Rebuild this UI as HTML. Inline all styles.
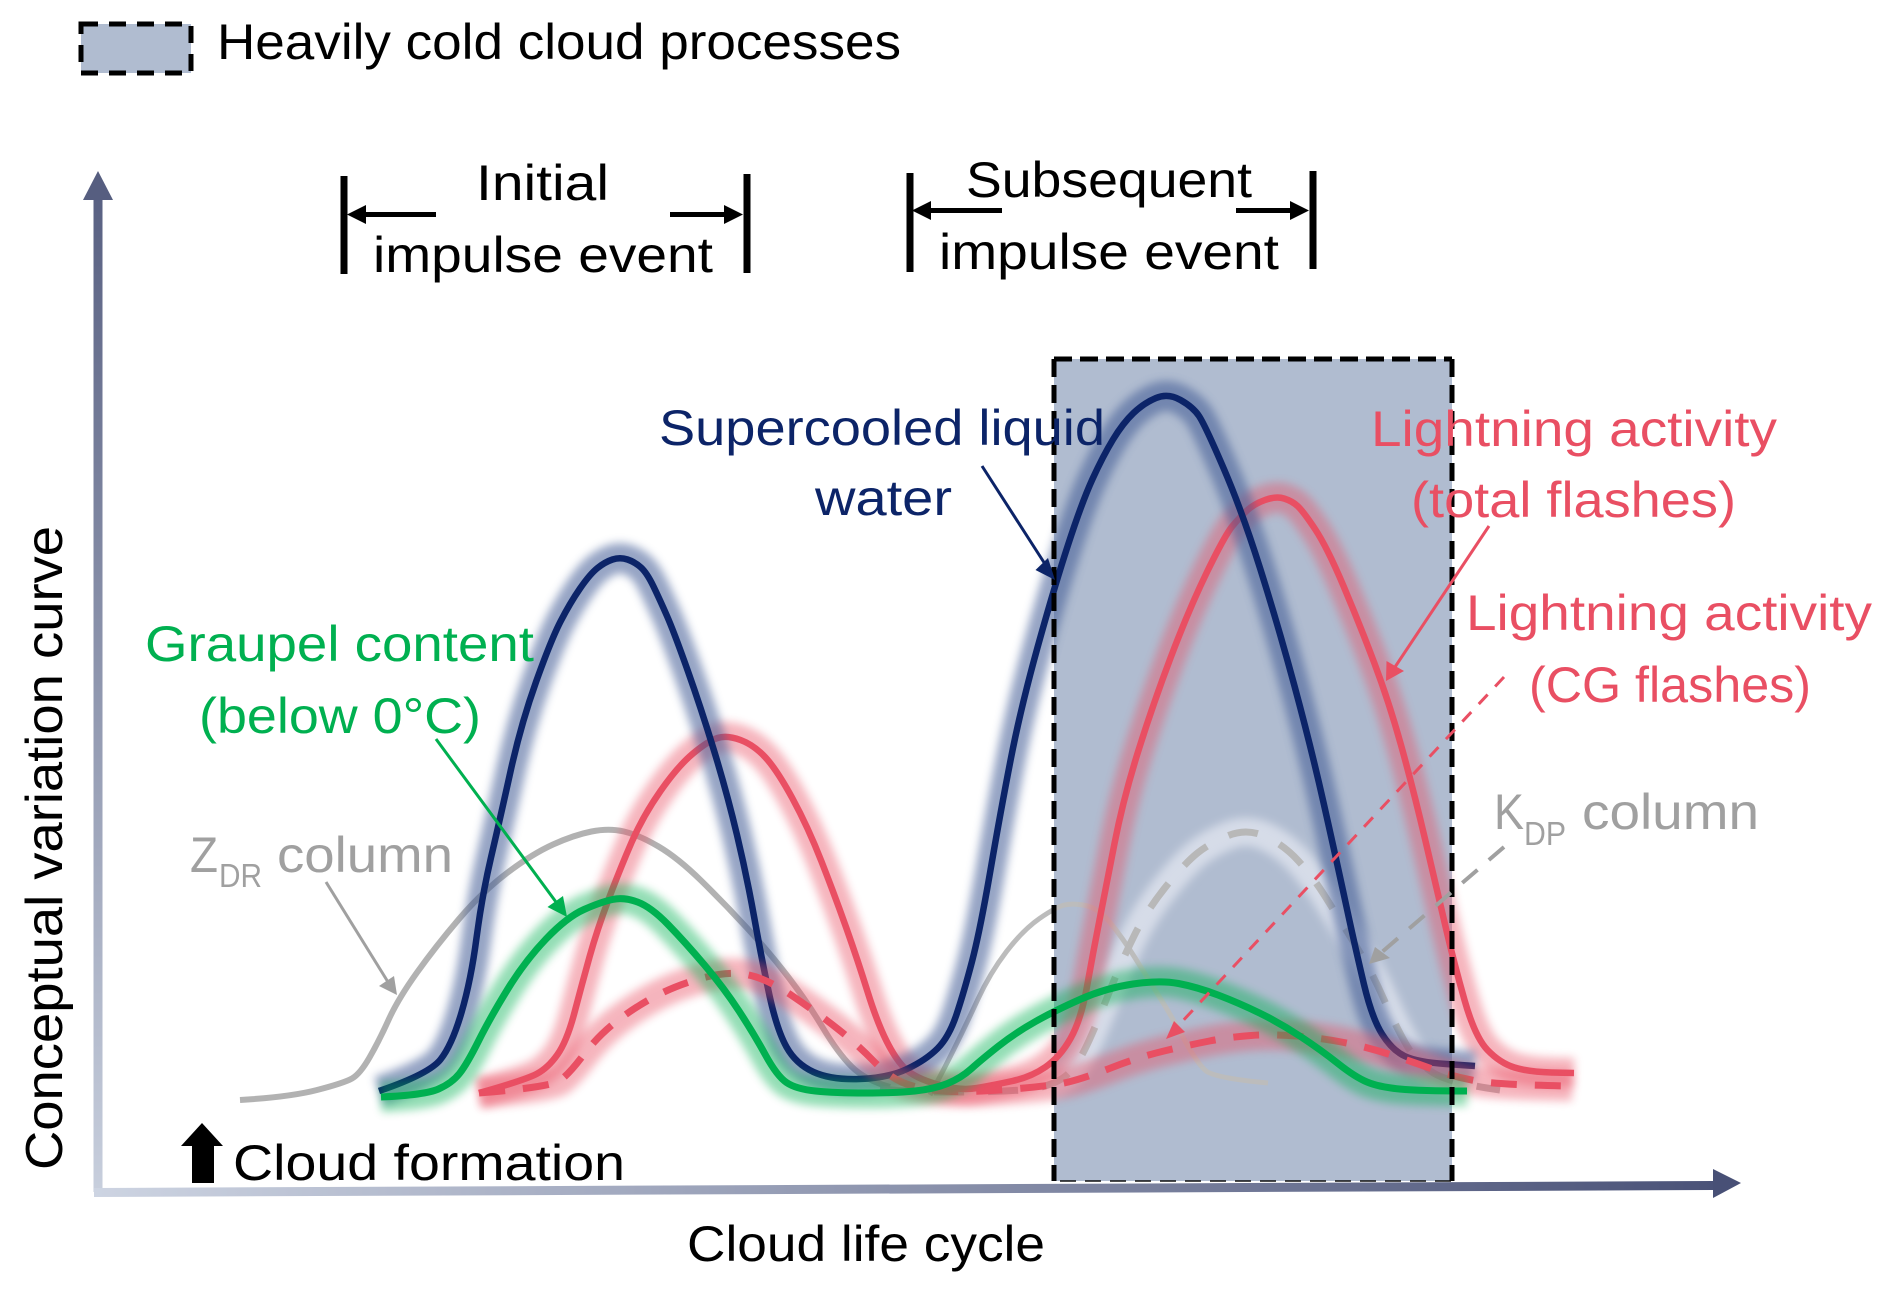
<!DOCTYPE html>
<html><head><meta charset="utf-8"><style>
html,body{margin:0;padding:0;background:#fff}
svg{display:block}
text{font-family:"Liberation Sans",sans-serif;font-size:50px}
</style></head><body>
<svg width="1892" height="1293" viewBox="0 0 1892 1293" xmlns="http://www.w3.org/2000/svg">
<defs>
<linearGradient id="gy" gradientUnits="userSpaceOnUse" x1="0" y1="171" x2="0" y2="1196"><stop offset="0" stop-color="#565e80"/><stop offset="1" stop-color="#c8cfdd"/></linearGradient>
<linearGradient id="gx" gradientUnits="userSpaceOnUse" x1="94" y1="0" x2="1741" y2="0"><stop offset="0" stop-color="#cdd4e2"/><stop offset="1" stop-color="#485076"/></linearGradient>
<filter id="b" filterUnits="userSpaceOnUse" x="0" y="300" width="1892" height="900"><feGaussianBlur stdDeviation="4.500"/></filter>
<clipPath id="rc"><rect x="1054" y="359" width="398" height="822"/></clipPath>
<path id="navy" d="M379 1091 Q429 1074 440.500 1059.500 Q452 1045 461.500 1012.500 Q471 980 476.500 938 Q482 896 491 857.500 Q500 819 510.500 771.500 Q521 724 536 682 Q551 640 560.500 621.500 Q570 603 580 588.500 Q590 574 597.500 568 Q605 562 612.500 559.500 Q620 557 627.500 559.500 Q635 562 641 567.500 Q647 573 653.500 586.500 Q660 600 667 616 Q674 632 687.500 670 Q701 708 714 750.500 Q727 793 737 835 Q747 877 754.500 919 Q762 961 769.500 995.500 Q777 1030 786.500 1047 Q796 1064 813.500 1072 Q831 1080 859.500 1079 Q888 1078 907 1069 Q926 1060 937.500 1048.500 Q949 1037 956.500 1014.500 Q964 992 972 961.500 Q980 931 990.500 870 Q1001 809 1011 758 Q1021 707 1037.500 647.500 Q1054 588 1068 545 Q1082 502 1092.500 479 Q1103 456 1113 439.500 Q1123 423 1133.500 413 Q1144 403 1156 398 Q1168 393 1180.500 400 Q1193 407 1199 416 Q1205 425 1223.500 468 Q1242 511 1260 568 Q1278 625 1294.500 686 Q1311 747 1323.500 802.500 Q1336 858 1346 904.500 Q1356 951 1364 984.500 Q1372 1018 1382 1034 Q1392 1050 1404.500 1056 Q1417 1062 1446 1064 L1475 1066"/>
<path id="red" d="M479 1093 Q525 1080 536.500 1074 Q548 1068 557.500 1054.500 Q567 1041 574.500 1012.500 Q582 984 589.500 957 Q597 930 608.500 899.500 Q620 869 631.500 842.500 Q643 816 660.500 791 Q678 766 693 753.500 Q708 741 717.500 738 Q727 735 740.500 740 Q754 745 765.500 757.500 Q777 770 792.500 798.500 Q808 827 821.500 861.500 Q835 896 846.500 928.500 Q858 961 867.500 991.500 Q877 1022 886.500 1041 Q896 1060 905.500 1069 Q915 1078 937.500 1084.500 Q960 1091 977 1088 Q994 1085 1012.500 1081 Q1031 1077 1045.500 1067 Q1060 1057 1070.500 1038.500 Q1081 1020 1087 986.500 Q1093 953 1099.500 920 Q1106 887 1114.500 843.500 Q1123 800 1137.500 753.500 Q1152 707 1170.500 658 Q1189 609 1207 572 Q1225 535 1232.500 526 Q1240 517 1247 510.500 Q1254 504 1265 500 Q1276 496 1284 498.500 Q1292 501 1297.500 506 Q1303 511 1315 529 Q1327 547 1343.500 586 Q1360 625 1374.500 663.500 Q1389 702 1401 745 Q1413 788 1425.500 841 Q1438 894 1446 928.500 Q1454 963 1464.500 1000 Q1475 1037 1487.500 1050 Q1500 1063 1514.500 1067.500 Q1529 1072 1551.500 1072.500 L1574 1073"/>
<path id="reddash" d="M479 1093 Q551 1087 560 1080.500 Q569 1074 583 1055.500 Q597 1037 614.500 1023 Q632 1009 653 997.500 Q674 986 700.500 978.500 Q727 971 746.500 974.500 Q766 978 792.500 996 Q819 1014 838.500 1029.500 Q858 1045 873 1060.500 Q888 1076 901.500 1082 Q915 1088 937.500 1090.500 Q960 1093 1006 1089.500 Q1052 1086 1068.500 1082 Q1085 1078 1112 1067.500 Q1139 1057 1164 1051 Q1189 1045 1209.500 1041 Q1230 1037 1251 1035.500 Q1272 1034 1296.500 1036 Q1321 1038 1344 1042.500 Q1367 1047 1390 1054.500 Q1413 1062 1433.500 1069.500 Q1454 1077 1477 1081 Q1500 1085 1572 1086"/>
<path id="green" d="M381 1097 Q425 1095 438.500 1089 Q452 1083 459.500 1073.500 Q467 1064 478.500 1041 Q490 1018 507.500 989.500 Q525 961 546 939 Q567 917 584 909.500 Q601 902 612.500 899.500 Q624 897 637.500 902 Q651 907 668 924.500 Q685 942 704.500 965 Q724 988 739 1011 Q754 1034 765.500 1055 Q777 1076 786.500 1082.500 Q796 1089 815.500 1091 Q835 1093 865.500 1093 Q896 1093 915 1091 Q934 1089 947.500 1083.500 Q961 1078 971 1069 Q981 1060 998 1046.500 Q1015 1033 1035.500 1021.500 Q1056 1010 1081 999 Q1106 988 1133 984 Q1160 980 1178.500 983.500 Q1197 987 1218 995 Q1239 1003 1259.500 1013 Q1280 1023 1300.500 1036.500 Q1321 1050 1338 1063.500 Q1355 1077 1367 1082 Q1379 1087 1399.500 1089 Q1420 1091 1467 1091"/>
<path id="kdp" d="M880 1089 Q915 1092 952 1092 Q1023 1092 1041.500 1087 Q1060 1082 1068.500 1073.500 Q1077 1065 1085 1049 Q1093 1033 1107.500 996.500 Q1122 960 1134.500 935 Q1147 910 1166 886.500 Q1185 863 1197.500 853 Q1210 843 1228.500 835.500 Q1247 828 1265.500 836.500 Q1284 845 1298.500 861 Q1313 877 1325.500 897 Q1338 917 1354.500 943.500 Q1371 970 1383.500 998.500 Q1396 1027 1406.500 1045 Q1417 1063 1433.500 1073 Q1450 1083 1500 1090"/>
</defs>
<rect width="1892" height="1293" fill="#fff"/>

<!-- legend -->
<rect x="81" y="24" width="110" height="49" fill="#b0bcd0" stroke="#000" stroke-width="5" stroke-dasharray="17 11"/>
<text x="217" y="59" textLength="684" lengthAdjust="spacingAndGlyphs">Heavily cold cloud processes</text>

<!-- shaded region -->
<rect x="1054" y="359" width="398" height="822" fill="#b0bcd0"/>

<!-- axes -->
<polygon points="93.500,200 102.500,200 102.500,1192 93.500,1192" fill="url(#gy)"/>
<polygon points="83,200 98,171 113,200" fill="#565e80"/>
<polygon points="94,1188 1713,1181 1713,1190 94,1197" fill="url(#gx)"/>
<polygon points="1713,1169 1741,1183 1713,1198" fill="#485076"/>

<!-- grey curves -->
<g fill="none">
<g clip-path="url(#rc)"><use href="#kdp" stroke="#d6dce8" stroke-width="28" filter="url(#b)"/></g>
<path stroke="#b2b2b2" stroke-width="6" d="M240 1100 Q290 1097 317 1090 Q344 1083 352 1078.500 Q360 1074 369.500 1057.500 Q379 1041 388.500 1020 Q398 999 417 972.500 Q436 946 459 919 Q482 892 507 873 Q532 854 553 844.500 Q574 835 591.500 831.500 Q609 828 624 831.500 Q639 835 658.500 846.500 Q678 858 701 880.500 Q724 903 747 928 Q770 953 789 978 Q808 1003 823 1028 Q838 1053 851.500 1066.500 Q865 1080 890 1087"/>
<path stroke="#bcbcbc" stroke-width="5" d="M930 1095 Q940 1077 952.500 1052 Q965 1027 977.500 1000 Q990 973 1006.500 951.500 Q1023 930 1039.500 918.500 Q1056 907 1064.500 905 Q1073 903 1085.500 905.500 Q1098 908 1110 922.500 Q1122 937 1134.500 957 Q1147 977 1159.500 997 Q1172 1017 1184.500 1040 Q1197 1063 1205.500 1070.500 Q1214 1078 1268 1083"/>
<use href="#kdp" stroke="#b8b8b8" stroke-width="7" stroke-dasharray="30 24"/>
</g>

<!-- main curves -->
<g fill="none">
<use href="#red" stroke="#e94f63" stroke-width="30" opacity=".42" filter="url(#b)"/>
<use href="#red" stroke="#e94f63" stroke-width="6.500"/>
<use href="#navy" stroke="#3f5a94" stroke-width="30" opacity=".55" filter="url(#b)"/>
<use href="#navy" stroke="#0c2468" stroke-width="6.500"/>
<use href="#reddash" stroke="#e94f63" stroke-width="30" opacity=".42" filter="url(#b)"/>
<use href="#reddash" stroke="#e94f63" stroke-width="7" stroke-dasharray="26 18"/>
<use href="#green" stroke="#00b050" stroke-width="30" opacity=".42" filter="url(#b)"/>
<use href="#green" stroke="#00b050" stroke-width="7"/>
</g>

<!-- region border -->
<g fill="none" stroke="#000">
<path stroke-width="5" stroke-dasharray="18 8" d="M1054 359 H1452"/>
<path stroke-width="5" stroke-dasharray="18 8" d="M1054 359 V1181"/>
<path stroke-width="5" stroke-dasharray="18 8" d="M1452 359 V1181"/>
<path stroke-width="2" stroke-dasharray="16 9" stroke-opacity=".7" d="M1060 1181 H1452"/>
</g>

<!-- brackets -->
<g fill="#000" stroke="none">
<rect x="340.500" y="176" width="7" height="98"/>
<rect x="743.500" y="174" width="7" height="99"/>
<rect x="906.500" y="173" width="7" height="99"/>
<rect x="1309.500" y="171" width="7" height="98"/>
<rect x="366" y="212" width="70" height="5"/>
<polygon points="347,214.500 366,205 366,224"/>
<rect x="670" y="212" width="54" height="5"/>
<polygon points="743,214.500 724,205 724,224"/>
<rect x="931" y="208" width="71" height="5"/>
<polygon points="912,210.500 931,201 931,220"/>
<rect x="1236" y="208" width="54" height="5"/>
<polygon points="1309,210.500 1290,201 1290,220"/>
<polygon points="202,1123 223,1146 214,1146 214,1183 192,1183 192,1146 181,1146"/>
</g>

<text x="476" y="200" textLength="133" lengthAdjust="spacingAndGlyphs">Initial</text>
<text x="373" y="272" textLength="340" lengthAdjust="spacingAndGlyphs">impulse event</text>
<text x="966" y="197" textLength="286" lengthAdjust="spacingAndGlyphs">Subsequent</text>
<text x="939" y="269" textLength="340" lengthAdjust="spacingAndGlyphs">impulse event</text>

<!-- labels -->
<g fill="#0c2468">
<text x="659" y="445" textLength="446" lengthAdjust="spacingAndGlyphs">Supercooled liquid</text>
<text x="815" y="515" textLength="137" lengthAdjust="spacingAndGlyphs">water</text>
<line x1="982" y1="466" x2="1045" y2="564" stroke="#0c2468" stroke-width="3"/>
<polygon points="1055,580 1035.500,570 1048,558"/>
</g>
<g fill="#e94f63">
<text x="1371" y="446" textLength="406" lengthAdjust="spacingAndGlyphs">Lightning activity</text>
<text x="1411" y="517" textLength="325" lengthAdjust="spacingAndGlyphs">(total flashes)</text>
<text x="1466" y="630" textLength="406" lengthAdjust="spacingAndGlyphs">Lightning activity</text>
<text x="1529" y="702" textLength="282" lengthAdjust="spacingAndGlyphs">(CG flashes)</text>
<line x1="1489" y1="526" x2="1395" y2="667" stroke="#e94f63" stroke-width="3"/>
<polygon points="1386,681 1386.500,661 1404,671"/>
<line x1="1504" y1="677" x2="1178" y2="1026" stroke="#e94f63" stroke-width="3" stroke-dasharray="13 11"/>
<polygon points="1166,1039 1174,1021 1185,1032"/>
</g>
<g fill="#00b050">
<text x="145" y="661" textLength="389" lengthAdjust="spacingAndGlyphs">Graupel content</text>
<text x="199" y="733" textLength="282" lengthAdjust="spacingAndGlyphs">(below 0°C)</text>
<line x1="436" y1="739" x2="556" y2="902" stroke="#00b050" stroke-width="3"/>
<polygon points="567,917 547.500,907 563,896"/>
</g>
<g fill="#a0a0a0">
<text x="190" y="872" textLength="28" lengthAdjust="spacingAndGlyphs">Z</text>
<text x="219" y="887" textLength="43" lengthAdjust="spacingAndGlyphs" style="font-size:33px">DR</text>
<text x="277" y="872" textLength="176" lengthAdjust="spacingAndGlyphs">column</text>
<line x1="326" y1="882" x2="388" y2="982" stroke="#a0a0a0" stroke-width="3"/>
<polygon points="397,995 379,986 394,976"/>
<text x="1494" y="829" textLength="30" lengthAdjust="spacingAndGlyphs">K</text>
<text x="1524" y="845" textLength="42" lengthAdjust="spacingAndGlyphs" style="font-size:33px">DP</text>
<text x="1582" y="829" textLength="177" lengthAdjust="spacingAndGlyphs">column</text>
<line x1="1504" y1="847" x2="1382" y2="952" stroke="#a0a0a0" stroke-width="4" stroke-dasharray="20 15"/>
<polygon points="1369,964 1375,947 1390,958"/>
</g>

<text x="233" y="1180" textLength="392" lengthAdjust="spacingAndGlyphs">Cloud formation</text>
<text x="687" y="1261" textLength="358" lengthAdjust="spacingAndGlyphs">Cloud life cycle</text>
<text transform="translate(62 1170) rotate(-90)" x="0" y="0" textLength="644" lengthAdjust="spacingAndGlyphs" style="font-size:52px">Conceptual variation curve</text>
</svg>
</body></html>
